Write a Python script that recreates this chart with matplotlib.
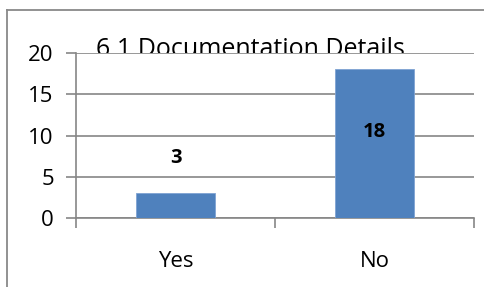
import matplotlib.pyplot as plt
from matplotlib.lines import Line2D

categories = ['Yes', 'No']
counts = [3, 18]
label_y = [7.3, 10.4]
title = '6.1 Documentation Details'

grey = '#868686'
bar_color = '#4F81BD'
plt.rcParams['font.family'] = ['Open Sans', 'DejaVu Sans']

fig = plt.figure(figsize=(4.84, 2.87), dpi=100)
W, H = 484, 287

# outer chart border (runs off the right and bottom edge)
for xs, ys in [([7, 7], [10, 300]), ([7, 500], [10, 10])]:
    fig.add_artist(Line2D([x / W for x in xs], [1 - y / H for y in ys],
                          color='#898989', lw=1.3))

# title sits behind the plot area and gets partly covered by it
fig.text(250 / W, 1 - 56 / H, title, ha='center', va='baseline',
         fontsize=18, color='black', zorder=0)

ax = fig.add_axes([76 / W, 1 - 218 / H, 398 / W, 165 / H])
ax.set_zorder(1)
ax.patch.set_alpha(0.0)

x = list(range(len(categories)))
ax.bar(x, counts, width=0.4, color=bar_color, edgecolor='#7fa3d3',
       linewidth=0.6, zorder=3)
for xi, yi, v in zip(x, label_y, counts):
    ax.text(xi, yi, str(v), ha='center', va='center', fontsize=14.5,
            fontweight='bold', zorder=4)

ax.set_xlim(-0.5, 1.5)
ax.set_ylim(0, 20)
ax.set_yticks([0, 5, 10, 15, 20])
ax.yaxis.grid(True, color=grey, lw=1.2, zorder=0)
ax.set_axisbelow(True)

ax.set_xticks([-0.5, 0.5, 1.5])
ax.set_xticklabels([])
ax.set_xticks(x, minor=True)
ax.set_xticklabels(categories, minor=True, fontsize=16)
ax.tick_params(axis='x', which='minor', length=0, pad=24)
ax.tick_params(axis='x', which='major', length=7, width=1.2, color=grey,
               direction='out')
ax.tick_params(axis='y', length=7, width=1.2, color=grey, labelsize=16,
               pad=9)

for s in ['top', 'right']:
    ax.spines[s].set_visible(False)
for s in ['left', 'bottom']:
    ax.spines[s].set_color(grey)
    ax.spines[s].set_linewidth(1.2)

# white mask over the plot area so the title's lower part is hidden
mask = plt.Rectangle((0, 0), 1, 1, transform=ax.transAxes, facecolor='white',
                     edgecolor='none', zorder=-1)
ax.add_patch(mask)

fig.savefig('out.png', dpi=100)
